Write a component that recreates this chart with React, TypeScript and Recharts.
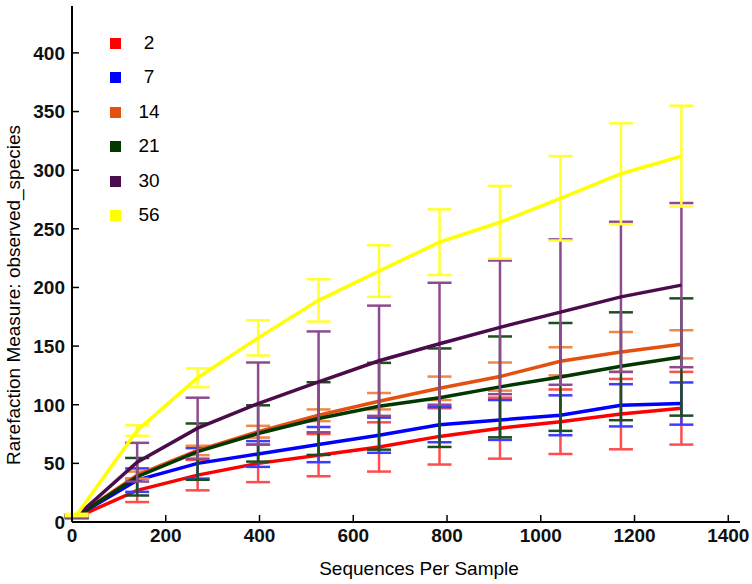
import { LineChart, Line, XAxis, YAxis, ErrorBar, Legend } from "recharts";

// sequences per sample (rarefaction depths)
const depths = [10, 139, 268, 397, 526, 655, 784, 913, 1042, 1171, 1300];
const groups = ["2", "7", "14", "21", "30", "56"];

// mean observed species and standard deviation per group
const mean2 = [4, 27, 40, 50, 57, 64, 73, 80, 85.5, 92, 97];
const sd2 = [1, 10, 13, 16, 18, 21, 24, 26, 27.5, 30, 31];
const mean7 = [5, 35.7, 50, 58, 66, 74, 83, 87, 91, 99.5, 101];
const sd7 = [1, 10, 13, 11, 15, 15, 15, 17, 17, 18, 18];
const mean14 = [5, 40, 61, 77, 91, 103, 114, 124, 137, 145, 151.5];
const sd14 = [1, 3, 4, 5, 5, 7, 10, 12, 12, 17, 12];
const mean21 = [5, 38.6, 60, 75.5, 88.2, 98.7, 106, 115.2, 123.7, 132.8, 140.7];
const sd21 = [1, 16, 24, 24, 31, 37, 42, 43, 46, 46, 50];
const mean30 = [5, 51, 80, 101, 119.5, 137.5, 152, 166, 179, 192, 202];
const sd30 = [1, 16.5, 26, 35, 43, 47, 52, 57, 62, 64, 70];
const mean56 = [6, 78, 123, 157, 189, 214, 238.6, 255.6, 276, 297, 312];
const sd56 = [1, 4.5, 8, 15, 18, 22, 28, 31, 36, 43, 43];

const xTicks = [0, 200, 400, 600, 800, 1000, 1200, 1400];
const yTicks = [0, 50, 100, 150, 200, 250, 300, 350, 400];

const means = [mean2, mean7, mean14, mean21, mean30, mean56];
const sds = [sd2, sd7, sd14, sd21, sd30, sd56];

const lineColors = ["#ff0000", "#0000ff", "#e4500f", "#003800", "#4a0c4a", "#ffff00"];
const barColors = ["#ff4d4d", "#3d3dff", "#f0884c", "#1d4f1d", "#8e4a8e", "#ffff33"];

const FONT = "'Liberation Sans', Arial, sans-serif";

const rows = depths.map((x, i) => {
  const row: Record<string, number> = { x };
  groups.forEach((g, k) => {
    row[`m${g}`] = means[k][i];
    row[`e${g}`] = sds[k][i];
  });
  return row;
});

const BottomTick = (props: any) => {
  const { x, y, payload } = props;
  return (
    <g>
      <line x1={x} y1={y} x2={x} y2={y - 7} stroke="#000" strokeWidth={1.5} />
      <text x={x} y={y + 20} textAnchor="middle" fontSize={19} fontWeight="bold" fontFamily={FONT} fill="#111">
        {payload.value}
      </text>
    </g>
  );
};

const TopTick = (props: any) => {
  const { x, y } = props;
  return <line x1={x} y1={y} x2={x} y2={y + 7} stroke="#000" strokeWidth={1.5} />;
};

const LeftTick = (props: any) => {
  const { x, y, payload } = props;
  return (
    <g>
      <line x1={x} y1={y} x2={x + 7} y2={y} stroke="#000" strokeWidth={1.5} />
      <text x={x - 7} y={y} dy="0.36em" textAnchor="end" fontSize={19} fontWeight="bold" fontFamily={FONT} fill="#111">
        {payload.value}
      </text>
    </g>
  );
};

const RightTick = (props: any) => {
  const { x, y } = props;
  return <line x1={x} y1={y} x2={x - 7} y2={y} stroke="#000" strokeWidth={1.5} />;
};

const LegendBox = (props: any) => {
  const items = [...(props.payload || [])].sort(
    (a: any, b: any) => groups.indexOf(String(a.value)) - groups.indexOf(String(b.value))
  );
  return (
    <div style={{ position: "relative", width: 200, height: 240, fontFamily: FONT }}>
      {items.map((entry: any, i: number) => (
        <div key={entry.value}>
          <div
            style={{
              position: "absolute",
              left: 110,
              top: 38 + i * 34.4,
              width: 11,
              height: 11,
              background: entry.color,
            }}
          />
          <div
            style={{
              position: "absolute",
              left: 129,
              width: 40,
              top: 32 + i * 34.4,
              textAlign: "center",
              fontSize: 19,
              lineHeight: "22px",
              color: "#000",
            }}
          >
            {entry.value}
          </div>
        </div>
      ))}
    </div>
  );
};

export default function App() {
  return (
    <div style={{ position: "absolute", left: 0, top: 0, width: 752, height: 584, background: "#fff" }}>
      <LineChart width={752} height={584} data={rows} margin={{ top: 6, right: 12, bottom: 0, left: 0 }}>
        <XAxis
          dataKey="x"
          type="number"
          domain={[0, 1425]}
          ticks={xTicks}
          height={62}
          tickSize={0}
          tickMargin={0}
          tickLine={false}
          tick={<BottomTick />}
          axisLine={{ stroke: "#000", strokeWidth: 2 }}
          label={{
            content: (p: any) => (
              <text
                x={p.viewBox.x + p.viewBox.width / 2 + 13}
                y={p.viewBox.y + 53}
                textAnchor="middle"
                fontSize={19}
                fontFamily={FONT}
                fill="#000"
              >
                Sequences Per Sample
              </text>
            ),
          }}
        />
        <XAxis
          xAxisId="top"
          orientation="top"
          type="number"
          domain={[0, 1425]}
          ticks={xTicks}
          height={0}
          tickSize={0}
          tickMargin={0}
          tickLine={false}
          tick={<TopTick />}
          axisLine={{ stroke: "#000", strokeWidth: 2 }}
        />
        <YAxis
          type="number"
          domain={[0, 440]}
          ticks={yTicks}
          width={72}
          tickSize={0}
          tickMargin={0}
          tickLine={false}
          tick={<LeftTick />}
          axisLine={{ stroke: "#000", strokeWidth: 2 }}
          label={{
            content: (p: any) => {
              const cx = p.viewBox.x + 20;
              const cy = p.viewBox.y + p.viewBox.height / 2 + 31;
              return (
                <text
                  x={cx}
                  y={cy}
                  transform={`rotate(-90 ${cx} ${cy})`}
                  textAnchor="middle"
                  fontSize={19}
                  fontFamily={FONT}
                  fill="#000"
                >
                  Rarefaction Measure: observed_species
                </text>
              );
            },
          }}
        />
        <YAxis
          yAxisId="right"
          orientation="right"
          type="number"
          domain={[0, 440]}
          ticks={yTicks}
          width={0}
          tickSize={0}
          tickMargin={0}
          tickLine={false}
          tick={<RightTick />}
          axisLine={{ stroke: "#000", strokeWidth: 2 }}
        />
        <Legend
          layout="vertical"
          align="center"
          verticalAlign="middle"
          content={<LegendBox />}
          wrapperStyle={{ left: 0, top: 0, width: 200, height: 240 }}
        />
        {groups.map((g, k) => (
          <Line
            key={g}
            name={g}
            dataKey={`m${g}`}
            stroke={lineColors[k]}
            strokeWidth={3.5}
            dot={false}
            activeDot={false}
            isAnimationActive={false}
          >
            <ErrorBar
              dataKey={`e${g}`}
              direction="y"
              width={12}
              stroke={barColors[k]}
              strokeWidth={2.5}
              isAnimationActive={false}
            />
          </Line>
        ))}
      </LineChart>
    </div>
  );
}
